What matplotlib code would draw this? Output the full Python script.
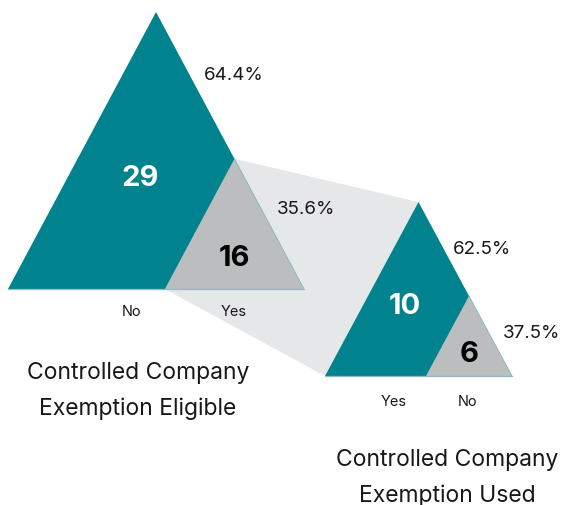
import matplotlib.pyplot as plt
from matplotlib.patches import Polygon

# counts for the two funnel stages
eligible_labels = ['No', 'Yes']
eligible_counts = [29, 16]
used_labels = ['Yes', 'No']
used_counts = [10, 6]
stage_titles = ['Controlled Company\nExemption Eligible',
                'Controlled Company\nExemption Used']

TEAL = '#00838f'
GREY = '#bcbdbf'
BAND = '#e6e7e8'
EDGE = '#8cbcc3'
INK = '#1a1718'
FONT = 'Inter'

W, H = 572, 506
fig = plt.figure(figsize=(W / 100, H / 100), dpi=100)
ax = fig.add_axes([0, 0, 1, 1])
ax.set_xlim(0, W)
ax.set_ylim(H, 0)
ax.axis('off')


def split_triangle(x0, base_y, width, height, frac):
    """Return outer points and the corner points of the inner (grey) triangle."""
    x1 = x0 + width
    apex = (x0 + width / 2, base_y - height)
    g_left = (x1 - frac * width, base_y)
    g_top = (x1 - frac * width / 2, base_y - frac * height)
    return apex, (x0, base_y), (x1, base_y), g_left, g_top


# big triangle (eligible) and small triangle (used)
big = split_triangle(8, 290, 296, 277, 0.47)
small = split_triangle(325, 377, 187, 174, 0.46)

# connecting band from grey part of first to second triangle
ax.add_patch(Polygon([big[4], small[0], small[1], big[3]], closed=True,
                     facecolor=BAND, edgecolor='none', zorder=1))

for tri in (big, small):
    apex, bl, br, gl, gt = tri
    ax.add_patch(Polygon([apex, bl, br], closed=True, facecolor=TEAL,
                         edgecolor='none', zorder=2))
    ax.add_patch(Polygon([gl, gt, br], closed=True, facecolor=GREY,
                         edgecolor='none', zorder=3))
    ax.plot([bl[0], br[0]], [bl[1], bl[1]], color=EDGE, lw=0.9, zorder=4)
    ax.plot([gt[0], br[0]], [gt[1], br[1]], color=EDGE, lw=0.6, zorder=4)

e_total = sum(eligible_counts)
u_total = sum(used_counts)
e_pct = [f'{c / e_total * 100:.1f}%' for c in eligible_counts]
u_pct = [f'{c / u_total * 100:.1f}%' for c in used_counts]

num_kw = dict(ha='center', va='center', fontsize=21, fontweight='bold',
              family=FONT, zorder=5)
pct_kw = dict(ha='center', va='center', fontsize=13.5, color=INK,
              family=FONT, zorder=5)
cat_kw = dict(ha='center', va='center', fontsize=10.5, color=INK,
              family=FONT, zorder=5)
title_kw = dict(ha='center', va='center', fontsize=16.5, color=INK,
                family=FONT, linespacing=1.75, zorder=5)

# eligible stage
ax.text(140, 178, str(eligible_counts[0]), color='white', **num_kw)
ax.text(234, 259, str(eligible_counts[1]), color='black', **num_kw)
ax.text(234, 75, e_pct[0], **pct_kw)
ax.text(306, 209, e_pct[1], **pct_kw)
ax.text(132, 312, eligible_labels[0], **cat_kw)
ax.text(234, 312, eligible_labels[1], **cat_kw)
ax.text(138, 391, stage_titles[0], **title_kw)

# used stage
ax.text(405, 306, str(used_counts[0]), color='white', **num_kw)
ax.text(469, 355, str(used_counts[1]), color='black', **num_kw)
ax.text(482, 249, u_pct[0], **pct_kw)
ax.text(532, 333, u_pct[1], **pct_kw)
ax.text(394, 402, used_labels[0], **cat_kw)
ax.text(468, 402, used_labels[1], **cat_kw)
ax.text(447, 478, stage_titles[1], **title_kw)

fig.savefig('out.png', dpi=100)
